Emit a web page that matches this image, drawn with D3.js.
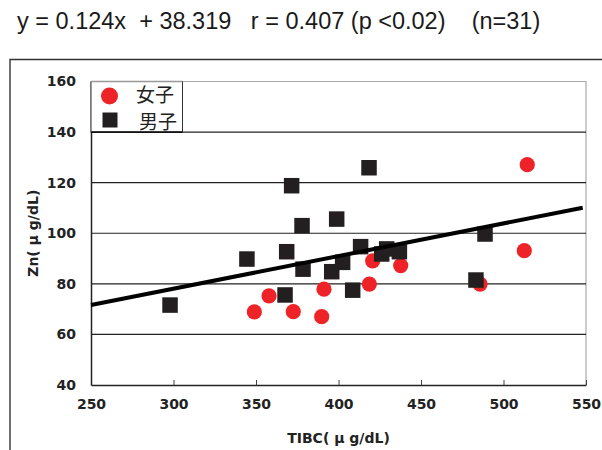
<!DOCTYPE html>
<html>
<head>
<meta charset="utf-8">
<script src="https://cdn.jsdelivr.net/npm/d3@7"></script>
<style>
  body { margin: 0; background: #fff; }
  svg { display: block; }
</style>
</head>
<body>
<div id="chart-area"></div>
<script>
// data
const femaleTIBC = [349.0, 357.9, 372.6, 389.8, 391.2, 418.7, 420.7, 437.7, 485.8, 512.6, 514.4];
const femaleZn   = [68.9, 75.2, 69.0, 67.0, 77.9, 79.9, 89.1, 87.2, 79.9, 93.1, 127.1];

const maleTIBC = [297.9, 344.5, 367.6, 368.6, 371.6, 377.9, 378.5, 395.9, 398.9, 402.5,
                  408.6, 413.4, 418.5, 426.2, 429.2, 436.9, 483.3, 488.8];
const maleZn   = [71.6, 89.8, 75.6, 92.7, 118.8, 103.0, 85.8, 84.8, 105.6, 88.5,
                  77.5, 94.7, 125.9, 91.8, 93.8, 92.7, 81.5, 99.7];

const trendX = [250, 548];
const trendY = [71.6, 110.1];

const xTicks = [250, 300, 350, 400, 450, 500, 550];
const yTicks = [40, 60, 80, 100, 120, 140, 160];
const legendLabels = ['女子', '男子'];

const titleText = 'y = 0.124x  + 38.319   r = 0.407 (p <0.02)    (n=31)';

const W = 602, H = 450;
const plot = {left: 91, right: 586, top: 81.5, bottom: 385};
const red = '#ed2327', dark = '#231f20';

const svg = d3.select('#chart-area')
    .append('svg')
    .attr('width', W)
    .attr('height', H);

const xScale = d3.scaleLinear().domain([250, 550]).range([plot.left, plot.right]);
const yScale = d3.scaleLinear().domain([40, 160]).range([plot.bottom, plot.top]);

// title
svg.append('text')
    .attr('x', 17)
    .attr('y', 29)
    .attr('font-family', 'Liberation Sans, Arial, sans-serif')
    .attr('font-size', '23.5px')
    .attr('fill', '#1a1a1a')
    .style('white-space', 'pre')
    .text(titleText);

// outer frame (left and top only visible)
svg.append('path')
    .attr('d', 'M10,' + H + ' V59.5 H' + W)
    .attr('fill', 'none')
    .attr('stroke', '#333')
    .attr('stroke-width', 1.4);

// plot frame top/right in light grey
svg.append('path')
    .attr('d', 'M' + plot.left + ',' + plot.top + ' H' + plot.right + ' V' + plot.bottom)
    .attr('fill', 'none')
    .attr('stroke', '#aaa')
    .attr('stroke-width', 1.2);

// gridlines
svg.append('g')
    .selectAll('line')
    .data(yTicks.filter(d => d > 40 && d < 160))
    .enter()
    .append('line')
    .attr('x1', plot.left)
    .attr('x2', plot.right)
    .attr('y1', d => yScale(d))
    .attr('y2', d => yScale(d))
    .attr('stroke', '#222')
    .attr('stroke-width', 1.1);

// axes
const xAxisCall = d3.axisBottom(xScale)
    .tickValues(xTicks)
    .tickSizeInner(-5)
    .tickSizeOuter(0)
    .tickPadding(14)
    .tickFormat(d3.format('d'));

const xAxis = svg.append('g')
    .attr('transform', 'translate(0,' + plot.bottom + ')')
    .call(xAxisCall);
xAxis.select('.domain').attr('stroke', '#222').attr('stroke-width', 1.5);
xAxis.selectAll('.tick line').attr('stroke', '#444');
xAxis.selectAll('text')
    .attr('font-family', 'DejaVu Sans, sans-serif')
    .attr('font-weight', 'bold')
    .attr('font-size', '14px')
    .attr('fill', '#222');

const yAxisCall = d3.axisLeft(yScale)
    .tickValues(yTicks)
    .tickSize(0)
    .tickPadding(15)
    .tickFormat(d3.format('d'));

const yAxis = svg.append('g')
    .attr('transform', 'translate(' + plot.left + ',0)')
    .call(yAxisCall);
yAxis.select('.domain').attr('stroke', '#222').attr('stroke-width', 1.5);
yAxis.selectAll('text')
    .attr('font-family', 'DejaVu Sans, sans-serif')
    .attr('font-weight', 'bold')
    .attr('font-size', '14px')
    .attr('fill', '#222');

// axis titles
svg.append('text')
    .text('TIBC( μ g/dL)')
    .attr('x', (plot.left + plot.right) / 2)
    .attr('y', 443)
    .attr('text-anchor', 'middle')
    .attr('font-family', 'DejaVu Sans, sans-serif')
    .attr('font-weight', 'bold')
    .attr('font-size', '14px')
    .attr('fill', '#222');

svg.append('text')
    .text('Zn( μ g/dL)')
    .attr('transform', 'translate(38,' + (plot.top + plot.bottom) / 2 + ') rotate(-90)')
    .attr('text-anchor', 'middle')
    .attr('font-family', 'DejaVu Sans, sans-serif')
    .attr('font-weight', 'bold')
    .attr('font-size', '14px')
    .attr('fill', '#222');

// points
const females = femaleTIBC.map((x, i) => ({x: x, y: femaleZn[i]}));
const males = maleTIBC.map((x, i) => ({x: x, y: maleZn[i]}));

svg.append('g')
    .selectAll('circle')
    .data(females)
    .enter()
    .append('circle')
    .attr('cx', d => xScale(d.x))
    .attr('cy', d => yScale(d.y))
    .attr('r', 7.6)
    .attr('fill', red);

const sq = 15.5;
svg.append('g')
    .selectAll('rect')
    .data(males)
    .enter()
    .append('rect')
    .attr('x', d => xScale(d.x) - sq / 2)
    .attr('y', d => yScale(d.y) - sq / 2)
    .attr('width', sq)
    .attr('height', sq)
    .attr('fill', dark);

// regression line
const trend = trendX.map((x, i) => [x, trendY[i]]);
svg.append('path')
    .datum(trend)
    .attr('d', d3.line().x(d => xScale(d[0])).y(d => yScale(d[1])))
    .attr('stroke', '#000')
    .attr('stroke-width', 4)
    .attr('fill', 'none');

// legend
const lg = svg.append('g');
lg.append('rect')
    .attr('x', plot.left)
    .attr('y', plot.top)
    .attr('width', 91.5)
    .attr('height', yScale(140) - plot.top)
    .attr('fill', '#fff')
    .attr('stroke', '#333')
    .attr('stroke-width', 1);
lg.append('line')
    .attr('x1', plot.left).attr('x2', plot.left + 91.5)
    .attr('y1', plot.top).attr('y2', plot.top)
    .attr('stroke', '#999').attr('stroke-width', 1.5);
lg.append('line')
    .attr('x1', plot.left).attr('x2', plot.left + 91.5)
    .attr('y1', yScale(140)).attr('y2', yScale(140))
    .attr('stroke', '#111').attr('stroke-width', 1.8);
lg.append('circle')
    .attr('cx', 109.5).attr('cy', 96)
    .attr('r', 8.5)
    .attr('fill', red);
lg.append('rect')
    .attr('x', 110 - 7.5).attr('y', 120 - 7.5)
    .attr('width', 15).attr('height', 15)
    .attr('fill', dark);
lg.selectAll('text.lab')
    .data(legendLabels)
    .enter()
    .append('text')
    .attr('class', 'lab')
    .text(d => d)
    .attr('x', (d, i) => i === 0 ? 136 : 139)
    .attr('y', (d, i) => i === 0 ? 102 : 129)
    .attr('font-family', 'Noto Sans CJK JP, sans-serif')
    .attr('font-size', '19px')
    .attr('fill', '#222');
</script>
</body>
</html>
